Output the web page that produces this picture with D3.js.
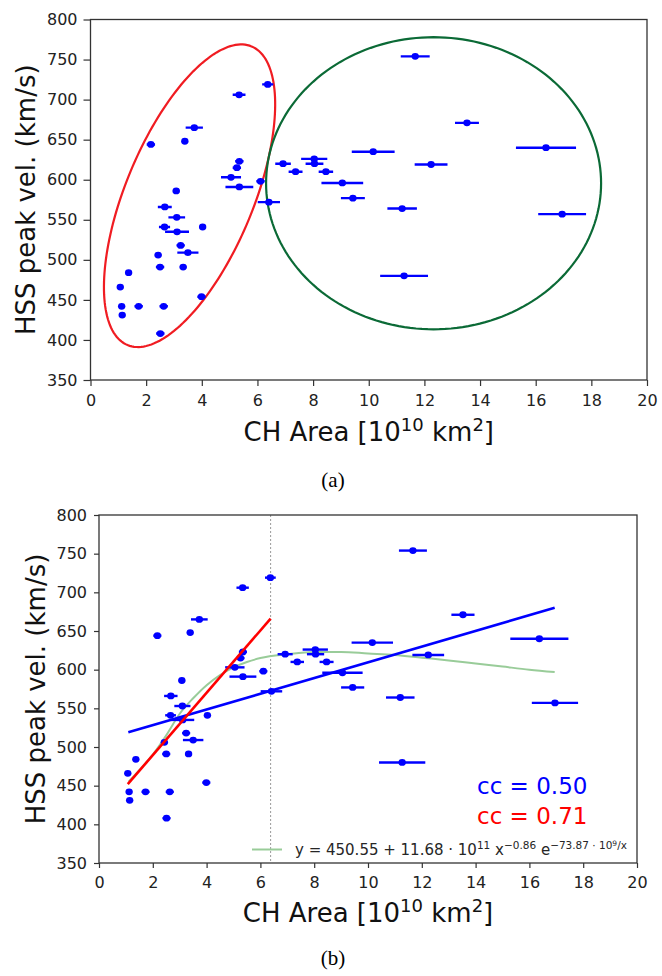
<!DOCTYPE html>
<html>
<head>
<meta charset="utf-8">
<script src="https://cdn.jsdelivr.net/npm/d3@7"></script>
<style>
html,body{margin:0;padding:0;background:#fff;}
svg{display:block;}
</style>
</head>
<body>
<svg id="chart" width="662" height="976"></svg>
<script>
// ---------- DATA ----------
const chArea = [6.37, 5.34, 3.73, 2.17, 3.39, 5.35, 5.26, 5.05, 5.35, 6.11, 6.41, 3.08, 2.67, 3.10, 2.66, 3.11, 4.03, 3.24, 3.50, 2.43, 2.50, 3.33, 1.37, 1.07, 3.99, 1.12, 1.73, 2.63, 1.14, 2.51, 6.92, 7.37, 8.04, 8.05, 8.46, 9.05, 9.43, 11.67, 13.53, 10.16, 16.37, 12.24, 11.20, 16.95, 11.27];
const peakVel = [719, 706, 665, 644, 648, 623, 615, 603, 591, 598, 572, 586, 566, 553, 541, 535, 541, 518, 509, 506, 491, 491, 484, 466, 454, 442, 442, 442, 431, 408, 620, 610, 626, 620, 610, 596, 577, 754, 671, 635, 640, 619, 564, 557, 480];
const areaErr = [0.2, 0.23, 0.31, 0.15, 0.08, 0.15, 0.15, 0.36, 0.5, 0.15, 0.4, 0.12, 0.25, 0.3, 0.2, 0.43, 0.05, 0.15, 0.38, 0.12, 0.15, 0.12, 0.05, 0.05, 0.15, 0.05, 0.15, 0.15, 0.05, 0.15, 0.28, 0.25, 0.47, 0.32, 0.26, 0.75, 0.43, 0.52, 0.43, 0.77, 1.08, 0.59, 0.53, 0.86, 0.86];

const xTicks = [0, 2, 4, 6, 8, 10, 12, 14, 16, 18, 20];
const yTicks = [350, 400, 450, 500, 550, 600, 650, 700, 750, 800];

// group ellipses (data coords): centre, conjugate semi-axis vectors
const redEllipseCenter = [3.56, 580];
const redEllipseU = [2.23, 186.4];
const redEllipseV = [2.12, -30.5];
const greenEllipseCenter = [12.33, 595.6];
const greenEllipseU = [6.02, 0];
const greenEllipseV = [0, 182.3];

// linear fits (endpoints)
const blueFitX = [1.09, 16.94];
const blueFitY = [519, 680];
const redFitX = [1.07, 6.38];
const redFitY = [452, 666];

// nonlinear fit curve
const curveX = [1.1, 1.5, 2.0, 2.5, 3.0, 3.5, 4.0, 4.5, 5.0, 5.5, 6.0, 7.0, 8.0, 9.0, 10.0, 11.0, 12.0, 13.0, 14.0, 15.0, 16.0, 16.94];
const curveY = [455, 470, 490, 515, 543, 563, 580, 593, 603, 610, 615, 620, 623, 623, 621, 619, 615.5, 612, 608, 604, 600, 597];

const splitArea = 6.38;
const ccLabels = ["cc = 0.50", "cc = 0.71"];
const ccColors = ["#0000ff", "#ff0000"];

// ---------- DRAW ----------
const svg = d3.select("#chart");
const FONT = "'DejaVu Sans', sans-serif";
const points = chArea.map((a, i) => ({x: a, y: peakVel[i], e: areaErr[i]}));

function ellipsePts(c, u, v) {
  const n = 180, out = [];
  for (let k = 0; k <= n; k++) {
    const t = 2 * Math.PI * k / n;
    out.push([c[0] + u[0] * Math.cos(t) + v[0] * Math.sin(t), c[1] + u[1] * Math.cos(t) + v[1] * Math.sin(t)]);
  }
  return out;
}

function panel(cfg) {
  const g = svg.append("g");
  const x = d3.scaleLinear().domain([0, 20]).range([cfg.left, cfg.right]);
  const y = d3.scaleLinear().domain([350, 800]).range([cfg.bottom, cfg.top]);

  const ax = g.append("g").attr("transform", `translate(0,${cfg.bottom})`)
    .call(d3.axisBottom(x).tickValues(xTicks).tickSize(cfg.xTick).tickPadding(9).tickFormat(d3.format("d")));
  const ay = g.append("g").attr("transform", `translate(${cfg.left},0)`)
    .call(d3.axisLeft(y).tickValues(yTicks).tickSize(cfg.yTick).tickPadding(cfg.yPad).tickFormat(d3.format("d")));
  [ax, ay].forEach(a => {
    a.select(".domain").remove();
    a.selectAll(".tick line").attr("stroke", "#333").attr("stroke-width", 1.2);
    a.selectAll(".tick text").attr("fill", "#222").style("font-family", FONT).style("font-size", "16px");
  });

  const plot = g.append("g");
  const clipId = "clip" + cfg.id;
  svg.append("clipPath").attr("id", clipId).append("rect")
    .attr("x", cfg.left).attr("y", cfg.top).attr("width", cfg.right - cfg.left).attr("height", cfg.bottom - cfg.top);
  plot.attr("clip-path", `url(#${clipId})`);

  const line = d3.line().x(d => x(d[0])).y(d => y(d[1]));

  if (cfg.id === "a") {
    plot.append("path").attr("d", line(ellipsePts(redEllipseCenter, redEllipseU, redEllipseV)))
      .attr("fill", "none").attr("stroke", "#f01c22").attr("stroke-width", 2.2);
    plot.append("path").attr("d", line(ellipsePts(greenEllipseCenter, greenEllipseU, greenEllipseV)))
      .attr("fill", "none").attr("stroke", "#0b6a36").attr("stroke-width", 2.2);
  } else {
    plot.append("line").attr("x1", x(splitArea)).attr("x2", x(splitArea))
      .attr("y1", y(800)).attr("y2", y(350))
      .attr("stroke", "#999").attr("stroke-width", 1).attr("stroke-dasharray", "2,2");
    const cpts = curveX.map((v, i) => [v, curveY[i]]);
    plot.append("path").attr("d", d3.line().x(d => x(d[0])).y(d => y(d[1])).curve(d3.curveMonotoneX)(cpts))
      .attr("fill", "none").attr("stroke", "#99cc99").attr("stroke-width", 2);
  }

  plot.selectAll(".eb").data(points).enter().append("line")
    .attr("x1", d => x(d.x - d.e)).attr("x2", d => x(d.x + d.e))
    .attr("y1", d => y(d.y)).attr("y2", d => y(d.y))
    .attr("stroke", "#0000ff").attr("stroke-width", 2.4);
  plot.selectAll(".pt").data(points).enter().append("ellipse")
    .attr("cx", d => x(d.x)).attr("cy", d => y(d.y))
    .attr("rx", 3.7).attr("ry", 3.4).attr("fill", "#0000ff");

  if (cfg.id === "b") {
    plot.append("path").attr("d", line(blueFitX.map((v, i) => [v, blueFitY[i]])))
      .attr("fill", "none").attr("stroke", "#0000ff").attr("stroke-width", 2.6);
    plot.append("path").attr("d", line(redFitX.map((v, i) => [v, redFitY[i]])))
      .attr("fill", "none").attr("stroke", "#ff0000").attr("stroke-width", 2.6);

    ccLabels.forEach((t, i) => {
      g.append("text").attr("x", 477).attr("y", 794 + i * 30).text(t)
        .attr("fill", ccColors[i]).style("font-family", FONT).style("font-size", "23px");
    });

    g.append("line").attr("x1", 252).attr("x2", 282).attr("y1", 849.5).attr("y2", 849.5)
      .attr("stroke", "#99cc99").attr("stroke-width", 2);
    const lt = g.append("text").attr("x", 295).attr("y", 855)
      .attr("fill", "#262626").style("font-family", FONT).style("font-size", "15px");
    lt.append("tspan").text("y = 450.55 + 11.68 \u00b7 10");
    lt.append("tspan").text("11").attr("dy", -6).style("font-size", "10.5px");
    lt.append("tspan").text(" x").attr("dy", 6);
    lt.append("tspan").text("\u22120.86").attr("dy", -6).style("font-size", "10.5px");
    lt.append("tspan").text(" e").attr("dy", 6);
    lt.append("tspan").text("\u221273.87 \u00b7 10").attr("dy", -6).style("font-size", "10.5px");
    lt.append("tspan").text("9").attr("dy", -3).style("font-size", "7.5px");
    lt.append("tspan").text("/x").attr("dy", 3).style("font-size", "10.5px");
  }

  g.append("rect").attr("x", cfg.left).attr("y", cfg.top)
    .attr("width", cfg.right - cfg.left).attr("height", cfg.bottom - cfg.top)
    .attr("fill", "none").attr("stroke", "#333").attr("stroke-width", 1.3);

  g.append("text").attr("transform", `translate(${cfg.yLabelX},${(cfg.top + cfg.bottom) / 2}) rotate(-90)`)
    .attr("text-anchor", "middle").attr("fill", "#111")
    .style("font-family", FONT).style("font-size", "26px").text("HSS peak vel. (km/s)");
  const xl = g.append("text").attr("x", (cfg.left + cfg.right) / 2).attr("y", cfg.xLabelY)
    .attr("text-anchor", "middle").attr("fill", "#111")
    .style("font-family", FONT).style("font-size", "26px");
  xl.append("tspan").text("CH Area [10");
  xl.append("tspan").text("10").attr("dy", -10).style("font-size", "18px");
  xl.append("tspan").text(" km").attr("dy", 10);
  xl.append("tspan").text("2").attr("dy", -10).style("font-size", "18px");
  xl.append("tspan").text("]").attr("dy", 10);

  svg.append("text").attr("x", 333).attr("y", cfg.capY).attr("text-anchor", "middle")
    .attr("fill", "#000").style("font-family", "'Liberation Serif', 'Times New Roman', serif")
    .style("font-size", "21px").text(cfg.caption);
}

panel({id: "a", left: 90.5, right: 647, top: 19.5, bottom: 380, xTick: 6, yTick: 7, yPad: 6,
       yLabelX: 35, xLabelY: 441, capY: 487, caption: "(a)"});
panel({id: "b", left: 99, right: 637, top: 515, bottom: 863, xTick: 5, yTick: 5, yPad: 7,
       yLabelX: 45, xLabelY: 922, capY: 965, caption: "(b)"});
</script>
</body>
</html>
